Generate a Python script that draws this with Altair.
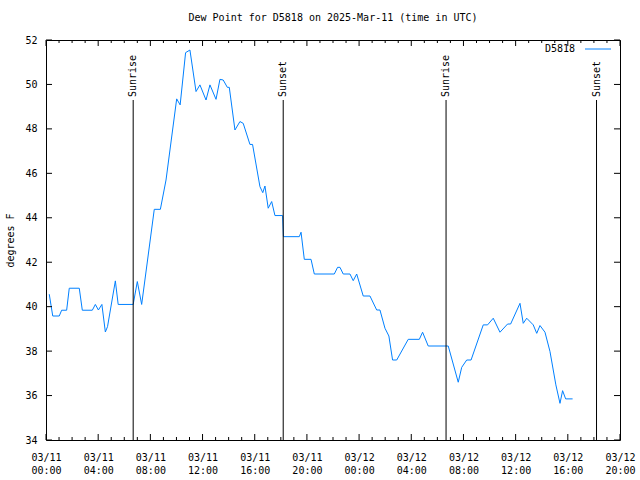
import altair as alt
import pandas as pd

FONT = "DejaVu Sans Mono"
LINE_COLOR = "#0080ff"

times = [
    "2025-03-11T00:15:00Z", "2025-03-11T00:31:00Z", "2025-03-11T01:01:00Z", "2025-03-11T01:12:00Z",
    "2025-03-11T01:35:00Z", "2025-03-11T01:47:00Z", "2025-03-11T02:33:00Z", "2025-03-11T02:47:00Z",
    "2025-03-11T03:33:00Z", "2025-03-11T03:47:00Z", "2025-03-11T04:01:00Z", "2025-03-11T04:17:00Z",
    "2025-03-11T04:33:00Z", "2025-03-11T04:43:00Z", "2025-03-11T05:19:00Z", "2025-03-11T05:32:00Z",
    "2025-03-11T06:41:00Z", "2025-03-11T07:00:00Z", "2025-03-11T07:20:00Z", "2025-03-11T08:18:00Z",
    "2025-03-11T08:46:00Z", "2025-03-11T09:12:00Z", "2025-03-11T10:01:00Z", "2025-03-11T10:17:00Z",
    "2025-03-11T10:42:00Z", "2025-03-11T11:02:00Z", "2025-03-11T11:30:00Z", "2025-03-11T11:48:00Z",
    "2025-03-11T12:16:00Z", "2025-03-11T12:34:00Z", "2025-03-11T13:02:00Z", "2025-03-11T13:20:00Z",
    "2025-03-11T13:35:00Z", "2025-03-11T13:54:00Z", "2025-03-11T14:03:00Z", "2025-03-11T14:29:00Z",
    "2025-03-11T14:52:00Z", "2025-03-11T15:07:00Z", "2025-03-11T15:38:00Z", "2025-03-11T15:50:00Z",
    "2025-03-11T16:24:00Z", "2025-03-11T16:37:00Z", "2025-03-11T16:47:00Z", "2025-03-11T17:02:00Z",
    "2025-03-11T17:18:00Z", "2025-03-11T17:33:00Z", "2025-03-11T18:08:00Z", "2025-03-11T18:12:00Z",
    "2025-03-11T19:25:00Z", "2025-03-11T19:33:00Z", "2025-03-11T19:48:00Z", "2025-03-11T20:19:00Z",
    "2025-03-11T20:34:00Z", "2025-03-11T22:06:00Z", "2025-03-11T22:21:00Z", "2025-03-11T22:32:00Z",
    "2025-03-11T22:47:00Z", "2025-03-11T23:18:00Z", "2025-03-11T23:33:00Z", "2025-03-11T23:49:00Z",
    "2025-03-12T00:19:00Z", "2025-03-12T00:50:00Z", "2025-03-12T01:21:00Z", "2025-03-12T01:36:00Z",
    "2025-03-12T01:59:00Z", "2025-03-12T02:17:00Z", "2025-03-12T02:34:00Z", "2025-03-12T02:53:00Z",
    "2025-03-12T03:46:00Z", "2025-03-12T04:37:00Z", "2025-03-12T04:52:00Z", "2025-03-12T05:18:00Z",
    "2025-03-12T06:50:00Z", "2025-03-12T07:36:00Z", "2025-03-12T07:52:00Z", "2025-03-12T08:15:00Z",
    "2025-03-12T08:35:00Z", "2025-03-12T09:31:00Z", "2025-03-12T09:51:00Z", "2025-03-12T10:17:00Z",
    "2025-03-12T10:48:00Z", "2025-03-12T11:23:00Z", "2025-03-12T11:37:00Z", "2025-03-12T12:20:00Z",
    "2025-03-12T12:35:00Z", "2025-03-12T12:51:00Z", "2025-03-12T13:21:00Z", "2025-03-12T13:37:00Z",
    "2025-03-12T13:52:00Z", "2025-03-12T14:15:00Z", "2025-03-12T14:38:00Z", "2025-03-12T15:05:00Z",
    "2025-03-12T15:24:00Z", "2025-03-12T15:36:00Z", "2025-03-12T15:50:00Z", "2025-03-12T16:22:00Z",
]
dewpoint = [
    40.56, 39.58, 39.58, 39.84,
    39.84, 40.83, 40.83, 39.84,
    39.84, 40.10, 39.85, 40.10,
    38.86, 39.10, 41.16, 40.10,
    40.10, 41.13, 40.10, 44.38,
    44.38, 45.70, 49.35, 49.08,
    51.43, 51.55, 49.68, 49.98,
    49.30, 49.98, 49.33, 50.23,
    50.20, 49.87, 49.87, 47.95,
    48.33, 48.25, 47.30, 47.30,
    45.40, 45.13, 45.43, 44.43,
    44.73, 44.10, 44.10, 43.15,
    43.15, 43.35, 42.13, 42.13,
    41.47, 41.47, 41.77, 41.77,
    41.47, 41.47, 41.17, 41.47,
    40.48, 40.48, 39.85, 39.85,
    39.03, 38.68, 37.60, 37.60,
    38.53, 38.53, 38.85, 38.23,
    38.23, 36.60, 37.27, 37.60,
    37.60, 39.18, 39.18, 39.48,
    38.85, 39.22, 39.22, 40.15,
    39.25, 39.48, 39.18, 38.80,
    39.15, 38.85, 37.98, 36.48,
    35.65, 36.22, 35.85, 35.85,
]

sun_times = ["2025-03-11T06:41:00Z", "2025-03-11T18:11:00Z",
             "2025-03-12T06:40:00Z", "2025-03-12T18:12:00Z"]
sun_labels = ["Sunrise", "Sunset", "Sunrise", "Sunset"]

y_tick_values = [34, 36, 38, 40, 42, 44, 46, 48, 50, 52]
x_major_hours = [0, 4, 8, 12, 16, 20, 24, 28, 32, 36, 40, 44]
x_all_hours = list(range(0, 45))
series_name = "D5818"


def hour_to_iso(h):
    day = 11 + h // 24
    return f"2025-03-{day:02d}T{h % 24:02d}:00:00Z"


def hour_to_dt(h):
    day = 11 + h // 24
    return alt.DateTime(year=2025, month=3, date=day, hours=h % 24, utc=True)


df = pd.DataFrame({"time": times, "dew": dewpoint})
sun_df = pd.DataFrame({"time": sun_times, "label": sun_labels})
major_df = pd.DataFrame({"time": [hour_to_iso(h) for h in x_major_hours]})
minor_df = pd.DataFrame({"time": [hour_to_iso(h) for h in x_all_hours if h not in x_major_hours]})
ytick_df = pd.DataFrame({"dew": y_tick_values})
legend_df = pd.DataFrame({"name": [series_name]})

W, H = 574, 400

x_scale = alt.Scale(type="utc",
                    domain=[alt.DateTime(year=2025, month=3, date=11, hours=0, utc=True),
                            alt.DateTime(year=2025, month=3, date=12, hours=20, utc=True)],
                    nice=False)
y_scale = alt.Scale(domain=[34, 52], nice=False, zero=False)

x_axis = alt.Axis(
    values=[hour_to_dt(h) for h in x_major_hours],
    labelExpr="[utcFormat(datum.value, '%m/%d'), utcFormat(datum.value, '%H:%M')]",
    ticks=False, domain=False, grid=False, title=None,
    labelPadding=12, labelLineHeight=13, labelFlush=False, labelOverlap=False,
)
y_axis = alt.Axis(
    values=y_tick_values, ticks=False, domain=False, grid=False,
    title="degrees F", titleX=-36, titleY=H / 2, titleAngle=270,
    titleAlign="center", titleBaseline="middle", titleFontWeight="normal",
    labelPadding=9,
)


def X(field="time:T"):
    return alt.X(field, scale=x_scale, axis=x_axis)


def Y(field="dew:Q"):
    return alt.Y(field, scale=y_scale, axis=y_axis)


line = alt.Chart(df).mark_line(color=LINE_COLOR, strokeWidth=1).encode(
    x=X(), y=Y(),
)

sun_rules = alt.Chart(sun_df).mark_rule(color="black", strokeWidth=1).encode(
    x=X(), y=alt.value(60), y2=alt.value(H),
)
sun_text = alt.Chart(sun_df).mark_text(
    angle=270, align="left", baseline="middle", font=FONT, fontSize=10, color="black"
).encode(
    x=X(), y=alt.value(57), text="label:N",
)

major_bottom = alt.Chart(major_df).mark_rule(color="black").encode(
    x=X(), y=alt.value(H), y2=alt.value(H - 6))
major_top = alt.Chart(major_df).mark_rule(color="black").encode(
    x=X(), y=alt.value(0), y2=alt.value(6))
minor_bottom = alt.Chart(minor_df).mark_rule(color="black").encode(
    x=X(), y=alt.value(H), y2=alt.value(H - 3))
minor_top = alt.Chart(minor_df).mark_rule(color="black").encode(
    x=X(), y=alt.value(0), y2=alt.value(3))
ytick_left = alt.Chart(ytick_df).mark_rule(color="black").encode(
    y=Y(), x=alt.value(0), x2=alt.value(6))
ytick_right = alt.Chart(ytick_df).mark_rule(color="black").encode(
    y=Y(), x=alt.value(W), x2=alt.value(W - 6))

legend_text = alt.Chart(legend_df).mark_text(
    align="right", baseline="middle", font=FONT, fontSize=10, color="black"
).encode(text="name:N", x=alt.value(529), y=alt.value(9))
legend_line = alt.Chart(legend_df).mark_rule(color=LINE_COLOR, strokeWidth=1).encode(
    x=alt.value(539), x2=alt.value(565), y=alt.value(9))

chart = alt.layer(
    line, major_bottom, major_top, minor_bottom, minor_top, ytick_left, ytick_right,
    sun_rules, sun_text, legend_text, legend_line,
).properties(
    width=W, height=H,
    title=alt.TitleParams("Dew Point for D5818 on 2025-Mar-11 (time in UTC)",
                          font=FONT, fontSize=10, fontWeight="normal",
                          anchor="middle", offset=12, color="black"),
    autosize=alt.AutoSizeParams(type="none"),
    padding={"left": 46, "top": 40, "right": 20, "bottom": 40},
    background="white",
).configure_view(
    stroke="black", strokeWidth=1,
).configure_axis(
    labelFont=FONT, labelFontSize=10, labelColor="black",
    titleFont=FONT, titleFontSize=10, titleColor="black",
)

chart.save("out.html", embed_options={"renderer": "svg", "actions": False})
